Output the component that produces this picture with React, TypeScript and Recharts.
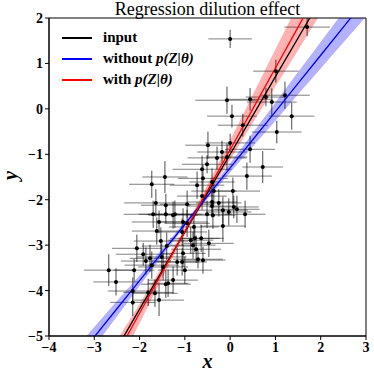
import { ComposedChart, Scatter, ErrorBar, Line, Area, XAxis, YAxis, ReferenceArea } from 'recharts';

// grille x pour les droites et les bandes
const gridX = [-4, -3.5, -3, -2.5, -2, -1.5, -1, -0.5, 0, 0.5, 1, 1.5, 2, 2.5, 3];
const inputY = [-7.83, -6.97, -6.12, -5.27, -4.41, -3.56, -2.71, -1.85, -1.0, -0.15, 0.71, 1.56, 2.41, 3.27, 4.12];
const withoutY = [-6.26, -5.64, -5.02, -4.4, -3.78, -3.16, -2.54, -1.92, -1.3, -0.68, -0.06, 0.56, 1.18, 1.8, 2.42];
const withoutLow = [-6.57, -5.91, -5.24, -4.57, -3.9, -3.24, -2.59, -1.98, -1.4, -0.83, -0.26, 0.32, 0.89, 1.46, 2.03];
const withoutHigh = [-5.95, -5.38, -4.8, -4.23, -3.66, -3.08, -2.49, -1.86, -1.2, -0.53, 0.14, 0.81, 1.47, 2.14, 2.81];
const withY = [-8.1, -7.2, -6.3, -5.4, -4.5, -3.6, -2.7, -1.8, -0.9, 0.0, 0.9, 1.8, 2.7, 3.6, 4.5];
const withLow = [-8.71, -7.71, -6.71, -5.71, -4.72, -3.73, -2.78, -1.93, -1.12, -0.31, 0.49, 1.29, 2.1, 2.9, 3.7];
const withHigh = [-7.5, -6.69, -5.89, -5.09, -4.29, -3.47, -2.62, -1.67, -0.69, 0.31, 1.31, 2.31, 3.31, 4.3, 5.3];

// observations (x, y) avec leurs erreurs
const pointX = [
  0.0, 1.7, 1.01, -0.07, 0.44, 0.79, 0.92, 1.21, 0.04, 1.36, 0.28, 1.03, -0.49, 0.0, -0.18, -0.29, -0.07, -0.51, -0.62, 0.44,
  0.72, -1.44, 0.37, -1.73, -1.64, -1.42, -1.7, -1.42, -1.26, -1.57, -1.62, -1.53, -1.4, -2.06, -1.92, -1.86, -1.77, -1.73, -2.68, -1.51,
  -2.12, -2.52, -2.15, -2.15, -1.81, -1.66, -1.57, -1.42, -1.37, -1.26, -1.48, -1.17, -1.06, -0.71, -0.6, -1.0, -0.6, -0.4, -0.73, 0.06,
  -0.62, -0.36, -0.95, -0.4, -0.25, -0.4, -1.22, -0.51, -0.38, -0.16, -0.03, 0.08, 0.15, 0.33, -1.04, -0.95, -0.8, -0.16, -1.06, -0.87,
  -0.78, -0.64, -0.47, -0.82, -0.75, -1.04,
];
const pointY = [
  1.54, 1.8, 0.83, 0.19, 0.21, 0.26, 0.15, 0.3, -0.16, -0.16, -0.36, -0.51, -0.8, -0.75, -0.95, -1.08, -1.06, -1.22, -1.33, -0.89,
  -1.28, -1.5, -1.48, -1.66, -2.07, -2.12, -2.32, -2.32, -2.34, -2.49, -2.69, -2.91, -3.02, -3.07, -3.2, -3.35, -3.29, -3.44, -3.55, -3.26,
  -3.55, -3.81, -4.01, -4.26, -4.04, -4.06, -4.21, -3.86, -3.84, -3.77, -3.48, -3.37, -3.37, -3.31, -3.33, -3.55, -1.53, -1.61, -1.68, -1.81,
  -1.92, -1.81, -2.1, -2.05, -2.07, -2.14, -2.32, -2.32, -2.34, -2.23, -2.27, -2.16, -2.21, -2.32, -2.49, -2.52, -2.6, -2.58, -2.71, -2.89,
  -2.85, -2.85, -2.96, -3.0, -3.09, -3.18,
];
const errX = [
  0.48, 0.5, 0.5, 0.7, 0.5, 0.45, 0.55, 0.55, 0.55, 0.5, 0.55, 0.55, 0.5, 0.55, 0.55, 0.65, 0.45, 0.55, 0.65, 0.55,
  0.45, 0.5, 0.55, 0.5, 0.7, 0.55, 0.65, 0.6, 0.55, 0.6, 0.55, 0.6, 0.55, 0.55, 0.6, 0.55, 0.45, 0.6, 0.55, 0.55,
  0.45, 0.5, 0.55, 0.5, 0.55, 0.5, 0.55, 0.55, 0.45, 0.55, 0.55, 0.5, 0.55, 0.55, 0.5, 0.6, 0.55, 0.5, 0.6, 0.6,
  0.55, 0.5, 0.6, 0.55, 0.5, 0.55, 0.6, 0.55, 0.5, 0.55, 0.5, 0.55, 0.5, 0.45, 0.55, 0.5, 0.55, 0.5, 0.55, 0.5,
  0.55, 0.5, 0.55, 0.5, 0.55, 0.5,
];
const errY = [
  0.2, 0.2, 0.25, 0.3, 0.25, 0.2, 0.3, 0.3, 0.25, 0.3, 0.25, 0.25, 0.3, 0.2, 0.25, 0.25, 0.3, 0.2, 0.3, 0.3,
  0.35, 0.35, 0.3, 0.3, 0.3, 0.25, 0.3, 0.2, 0.3, 0.25, 0.3, 0.3, 0.3, 0.3, 0.25, 0.3, 0.3, 0.3, 0.35, 0.3,
  0.25, 0.3, 0.3, 0.3, 0.3, 0.3, 0.35, 0.3, 0.3, 0.3, 0.3, 0.3, 0.3, 0.2, 0.3, 0.3, 0.3, 0.3, 0.3, 0.3,
  0.3, 0.3, 0.3, 0.3, 0.3, 0.25, 0.3, 0.3, 0.3, 0.3, 0.3, 0.25, 0.3, 0.3, 0.3, 0.3, 0.3, 0.35, 0.3, 0.3,
  0.3, 0.3, 0.3, 0.3, 0.3, 0.3,
];

const xTicks = [-4, -3, -2, -1, 0, 1, 2, 3];
const yTicks = [-5, -4, -3, -2, -1, 0, 1, 2];

const legendNames = ['input', 'without', 'with'];
const legendColors = ['#000000', '#0000ff', '#ff0000'];

const lineData = gridX.map((x, i) => ({
  x,
  input: inputY[i],
  without: withoutY[i],
  withoutBand: [withoutLow[i], withoutHigh[i]],
  with: withY[i],
  withBand: [withLow[i], withHigh[i]],
}));

const points = pointX.map((x, i) => ({ x, y: pointY[i], ex: errX[i], ey: errY[i] }));

const serif = 'Liberation Serif, serif';
const fmt = (v: number) => (v < 0 ? '\u2212' + Math.abs(v) : String(v));
const tickStyle = { fill: '#000', fontSize: 14, fontWeight: 'bold', fontFamily: serif };

const Dot = (props: any) => <circle cx={props.cx} cy={props.cy} r={2} fill="#000" />;

export default function App() {
  return (
    <div style={{ position: 'absolute', left: 0, top: 0, width: 374, height: 374, background: '#fff' }}>
      <ComposedChart width={374} height={374} data={lineData} margin={{ top: 18, right: 8, bottom: 0, left: 0 }}>
        <XAxis
          type="number"
          dataKey="x"
          domain={[-4, 3]}
          ticks={xTicks}
          allowDataOverflow
          height={38}
          tickSize={4}
          tick={tickStyle}
          tickFormatter={fmt}
          axisLine={{ stroke: '#000' }}
          tickLine={{ stroke: '#000' }}
        />
        <YAxis
          type="number"
          domain={[-5, 2]}
          ticks={yTicks}
          allowDataOverflow
          width={49}
          tickSize={4}
          tick={tickStyle}
          tickFormatter={fmt}
          axisLine={{ stroke: '#000' }}
          tickLine={{ stroke: '#000' }}
        />
        <Scatter data={points} dataKey="y" shape={Dot} isAnimationActive={false}>
          <ErrorBar dataKey="ex" direction="x" width={0} stroke="rgba(0,0,0,0.5)" strokeWidth={1} />
          <ErrorBar dataKey="ey" direction="y" width={0} stroke="rgba(0,0,0,0.7)" strokeWidth={1} />
        </Scatter>
        <Line dataKey="input" stroke="#000" strokeWidth={1.3} dot={false} type="linear" isAnimationActive={false} />
        <Area dataKey="withoutBand" stroke="none" fill="#0000ff" fillOpacity={0.3} type="monotone" isAnimationActive={false} />
        <Line dataKey="without" stroke="#0000ff" strokeWidth={1.3} dot={false} type="linear" isAnimationActive={false} />
        <Area dataKey="withBand" stroke="none" fill="#ff0000" fillOpacity={0.3} type="monotone" isAnimationActive={false} />
        <Line dataKey="with" stroke="#ff0000" strokeWidth={1.3} dot={false} type="linear" isAnimationActive={false} />
        <ReferenceArea x1={-4} x2={3} y1={-5} y2={2} fill="none" stroke="#000" strokeWidth={1} />
      </ComposedChart>

      <div style={{ position: 'absolute', left: 49, width: 317, top: 0, textAlign: 'center', fontFamily: serif, fontSize: 18, lineHeight: '18px', color: '#000' }}>
        Regression dilution effect
      </div>

      <div style={{ position: 'absolute', left: 62, top: 27, fontFamily: serif, fontSize: 15, fontWeight: 'bold', color: '#000' }}>
        {legendNames.map((name, i) => (
          <div key={name} style={{ display: 'flex', alignItems: 'center', height: 21 }}>
            <span style={{ display: 'inline-block', width: 30, height: 2, background: legendColors[i], marginRight: 11 }} />
            <span>
              {name}
              {i > 0 ? <i> p(Z|θ)</i> : null}
            </span>
          </div>
        ))}
      </div>

      <div style={{ position: 'absolute', left: 49, width: 317, top: 350, textAlign: 'center', fontFamily: serif, fontSize: 20, fontWeight: 'bold', fontStyle: 'italic', color: '#000' }}>
        x
      </div>
      <div style={{ position: 'absolute', left: 6, top: 164, transform: 'rotate(-90deg)', fontFamily: serif, fontSize: 20, fontWeight: 'bold', fontStyle: 'italic', color: '#000' }}>
        y
      </div>
    </div>
  );
}
